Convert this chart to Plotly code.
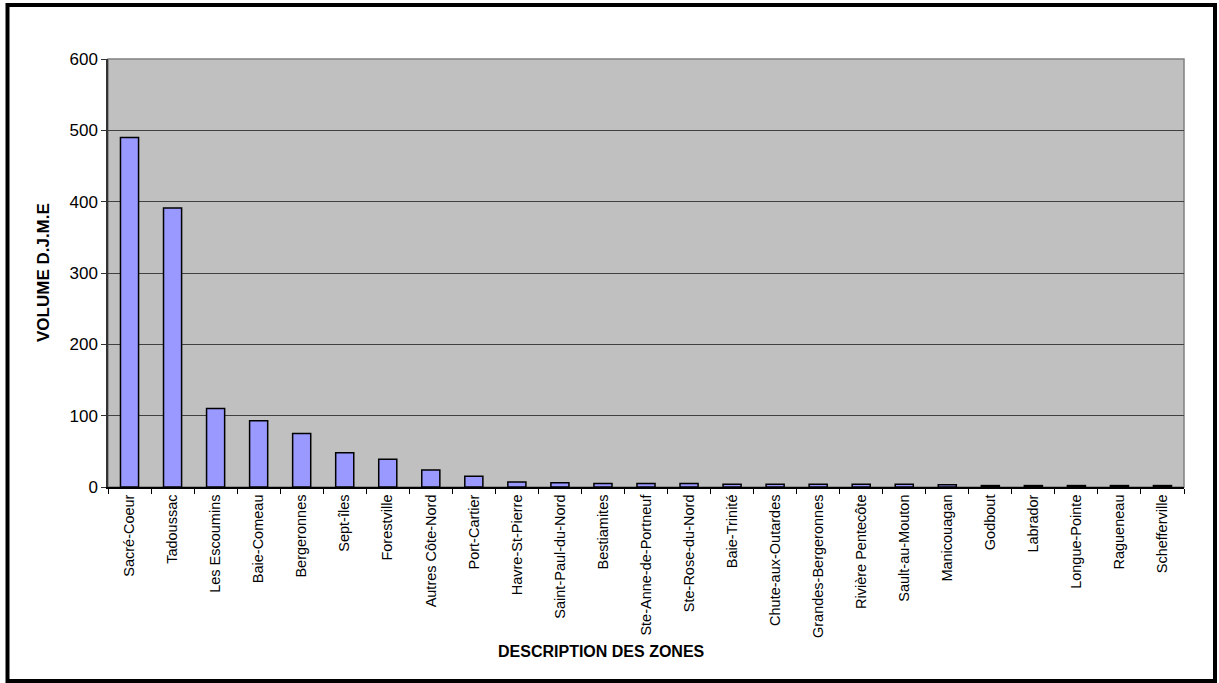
import plotly.graph_objects as go

zones = [
    "Sacré-Coeur", "Tadoussac", "Les Escoumins", "Baie-Comeau", "Bergeronnes",
    "Sept-îles", "Forestville", "Autres Côte-Nord", "Port-Cartier", "Havre-St-Pierre",
    "Saint-Paul-du-Nord", "Bestiamites", "Ste-Anne-de-Portneuf", "Ste-Rose-du-Nord",
    "Baie-Trinité", "Chute-aux-Outardes", "Grandes-Bergeronnes", "Rivière Pentecôte",
    "Sault-au-Mouton", "Manicouagan", "Godbout", "Labrador", "Longue-Pointe",
    "Ragueneau", "Schefferville",
]
volume = [490, 391, 110, 93, 75, 48, 39, 24, 15, 7, 6, 5, 5, 5, 4, 4, 4, 4, 4, 3, 2, 2, 2, 2, 2]
y_ticks = [0, 100, 200, 300, 400, 500, 600]

W, H = 1219, 683
L, R, T, B = 108, 1184, 59, 487
pw, ph = R - L, B - T

def px(x):
    return (x - L) / pw

def py(y):
    return (B - y) / ph

font = "Liberation Sans, Arial, sans-serif"

fig = go.Figure(go.Bar(
    x=zones, y=volume,
    marker=dict(color="#9999FF", line=dict(color="black", width=1.5)),
))

fig.update_layout(
    width=W, height=H,
    margin=dict(l=L, r=W - R, t=T, b=H - B, pad=0),
    paper_bgcolor="white", plot_bgcolor="#C0C0C0",
    bargap=0.58, showlegend=False,
    font=dict(family=font, color="black"),
    xaxis=dict(
        categoryorder="array", categoryarray=zones,
        tickangle=-90, tickfont=dict(size=14.5, family=font),
        ticks="outside", ticklen=5, tickcolor="black", tickson="boundaries",
        showline=True, linecolor="black", linewidth=1.5, showgrid=False,
        range=[-0.5, len(zones) - 0.5],
    ),
    yaxis=dict(
        range=[0, 600], tickvals=y_ticks, tickfont=dict(size=17, family=font),
        ticks="outside", ticklen=5, tickcolor="#333333",
        showline=True, linecolor="#333333", linewidth=1.5,
        showgrid=True, gridcolor="#404040", gridwidth=1, zeroline=False,
    ),
    shapes=[
        # plot area frame
        dict(type="rect", xref="paper", yref="paper", x0=0, x1=1, y0=0, y1=1,
             line=dict(color="#808080", width=1.5), layer="below"),
        # outer chart border
        dict(type="rect", xref="paper", yref="paper",
             x0=px(7.5), x1=px(1215), y0=py(681), y1=py(5),
             line=dict(color="black", width=4)),
    ],
    annotations=[
        dict(text="<b>VOLUME D.J.M.E</b>", xref="paper", yref="paper",
             x=px(43), y=py(273), textangle=-90, showarrow=False,
             font=dict(size=17, family=font), xanchor="center", yanchor="middle"),
        dict(text="<b>DESCRIPTION DES ZONES</b>", xref="paper", yref="paper",
             x=px(601), y=py(651), showarrow=False,
             font=dict(size=16, family=font), xanchor="center", yanchor="middle"),
    ],
)

fig.write_html("out.html")
